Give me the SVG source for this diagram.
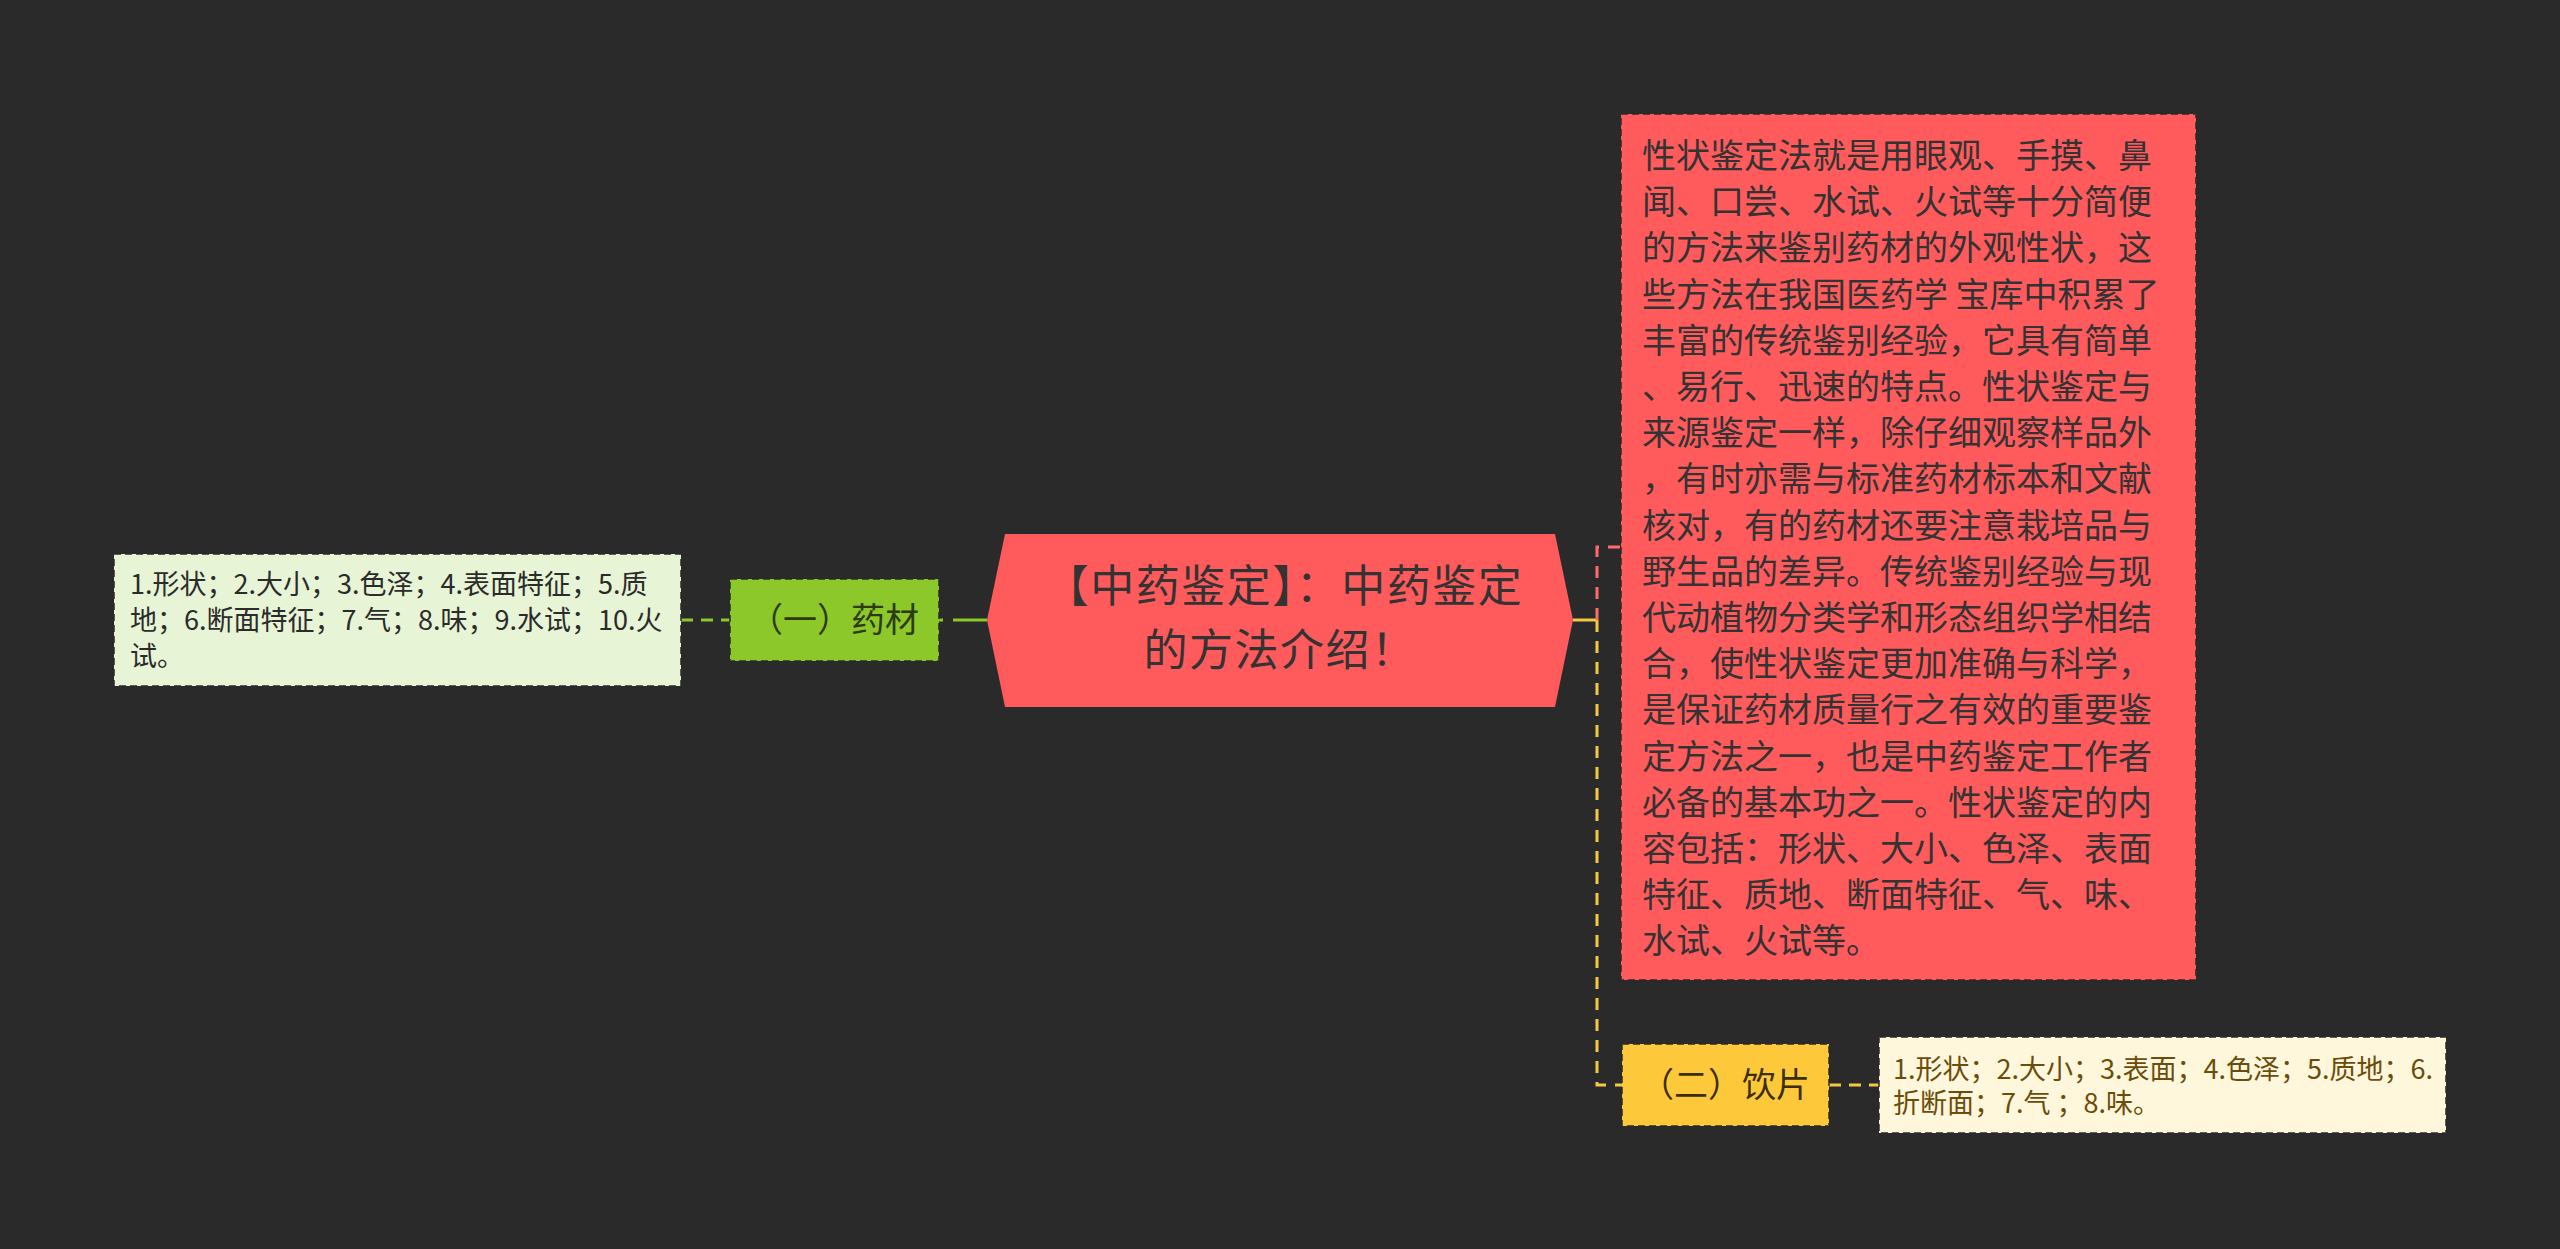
<svg xmlns="http://www.w3.org/2000/svg" width="2560" height="1249" viewBox="0 0 2560 1249">
<style>
text{font-family:"Noto Sans CJK SC","Noto Sans",sans-serif;}
.box{stroke:#2a2a2a;stroke-width:2;stroke-dasharray:7 4;stroke-opacity:0.75}
.leaf{font-size:27px}
.sub{font-size:34px;text-anchor:middle}
.root{font-size:44px;letter-spacing:1.5px;text-anchor:middle;fill:#333333}
.desc{font-size:34px;fill:#333333}
.conn{fill:none;stroke-width:3}
</style>
<rect width="2560" height="1249" fill="#2a2a2a"/>
<g id="connectors">
<line class="conn" x1="681" y1="620" x2="730" y2="620" stroke="#8cc82a" stroke-dasharray="12 8"/>
<line class="conn" x1="987" y1="620" x2="939" y2="620" stroke="#8cc82a" stroke-dasharray="34 10"/>
<polyline class="conn" points="1573,620 1597,620" stroke="#f5c842"/>
<polyline class="conn" points="1597,620 1597,1085 1622,1085" stroke="#f5c842" stroke-dasharray="12 9"/>
<polyline class="conn" points="1597,620 1597,547 1621,547" stroke="#ff6b6b" stroke-dasharray="12 9"/>
<line class="conn" x1="1829" y1="1085" x2="1879" y2="1085" stroke="#f5c842" stroke-dasharray="12 8"/>
</g>
<g id="root">
<polygon points="987,620 1005,534 1555,534 1573,620 1555,707 1005,707" fill="#ff5a5c"/>
<text class="root"><tspan x="1284" y="602">【中药鉴定】：中药鉴定</tspan><tspan x="1280" y="666">的方法介绍！</tspan></text>
</g>
<g id="node-yaocai">
<rect class="box" x="730" y="579" width="209" height="82" fill="#8cc82a"/>
<text class="sub" x="834" y="632" fill="#2d3a12">（一）药材</text>
</g>
<g id="leaf-yaocai">
<rect class="box" x="114" y="554" width="567" height="132" fill="#e7f4d5"/>
<text class="leaf" fill="#2b2b2b"><tspan x="130" y="594">1.形状；2.大小；3.色泽；4.表面特征；5.质</tspan><tspan x="130" y="630">地；6.断面特征；7.气；8.味；9.水试；10.火</tspan><tspan x="130" y="666">试。</tspan></text>
</g>
<g id="desc-box">
<rect class="box" x="1621" y="114" width="575" height="866" fill="#ff5a5c"/>
<text class="desc">
<tspan x="1642" y="168">性状鉴定法就是用眼观、手摸、鼻</tspan>
<tspan x="1642" y="214">闻、口尝、水试、火试等十分简便</tspan>
<tspan x="1642" y="260">的方法来鉴别药材的外观性状，这</tspan>
<tspan x="1642" y="307">些方法在我国医药学 宝库中积累了</tspan>
<tspan x="1642" y="353">丰富的传统鉴别经验，它具有简单</tspan>
<tspan x="1642" y="399">、易行、迅速的特点。性状鉴定与</tspan>
<tspan x="1642" y="445">来源鉴定一样，除仔细观察样品外</tspan>
<tspan x="1642" y="491">，有时亦需与标准药材标本和文献</tspan>
<tspan x="1642" y="538">核对，有的药材还要注意栽培品与</tspan>
<tspan x="1642" y="584">野生品的差异。传统鉴别经验与现</tspan>
<tspan x="1642" y="630">代动植物分类学和形态组织学相结</tspan>
<tspan x="1642" y="676">合，使性状鉴定更加准确与科学，</tspan>
<tspan x="1642" y="722">是保证药材质量行之有效的重要鉴</tspan>
<tspan x="1642" y="769">定方法之一，也是中药鉴定工作者</tspan>
<tspan x="1642" y="815">必备的基本功之一。性状鉴定的内</tspan>
<tspan x="1642" y="861">容包括：形状、大小、色泽、表面</tspan>
<tspan x="1642" y="907">特征、质地、断面特征、气、味、</tspan>
<tspan x="1642" y="953">水试、火试等。</tspan>
</text>
</g>
<g id="node-yinpian">
<rect class="box" x="1622" y="1044" width="207" height="82" fill="#fdc93a"/>
<text class="sub" x="1725" y="1097" fill="#3b2e05">（二）饮片</text>
</g>
<g id="leaf-yinpian">
<rect class="box" x="1879" y="1037" width="567" height="96" fill="#fef7dc"/>
<text class="leaf" fill="#6b4c0a"><tspan x="1893" y="1079">1.形状；2.大小；3.表面；4.色泽；5.质地；6.</tspan><tspan x="1893" y="1113">折断面；7.气 ；8.味。</tspan></text>
</g>
</svg>
